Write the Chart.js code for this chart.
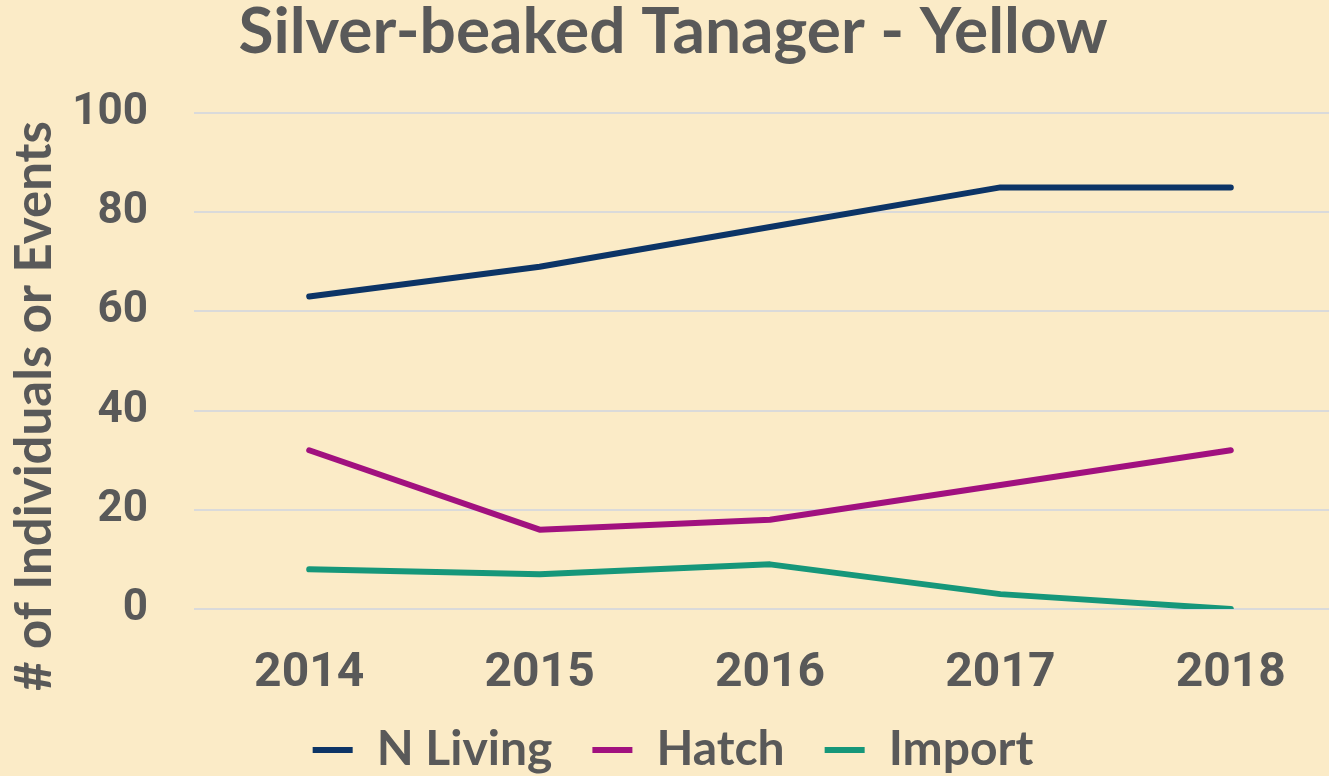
<!DOCTYPE html>
<html>
<head>
<meta charset="utf-8">
<script src="https://cdn.jsdelivr.net/npm/chart.js@4.4.1/dist/chart.umd.min.js"></script>
<style>
  html, body { margin: 0; padding: 0; overflow: hidden; background: #FBEBC7; }
  #wrap { position: relative; width: 1346px; height: 784px; }
</style>
</head>
<body>
<div id="wrap"><canvas id="myChart"></canvas></div>
<script>
// data
const years = ['2014', '2015', '2016', '2017', '2018'];
const nLiving = [63, 69, 77, 85, 85];
const hatch = [32, 16, 18, 25, 32];
const imports = [8, 7, 9, 3, 0];
const yTicks = [0, 20, 40, 60, 80, 100];
const yTitle = '# of Individuals or Events';

const textColor = '#595959';
const titleFont = "Lato, 'DejaVu Sans', sans-serif";
const tickFont = "Roboto, 'Open Sans', sans-serif";

Chart.defaults.color = textColor;

function series(label, values, color) {
    return {
        label: label,
        data: values,
        borderColor: color,
        backgroundColor: color,
        borderWidth: 6,
        borderCapStyle: 'round',
        borderJoinStyle: 'round',
        tension: 0,
        pointRadius: 0,
        pointHoverRadius: 0
    };
}

// axis title sits lower than the plot centre in the original, so draw it by hand
const yTitlePlugin = {
    id: 'yTitle',
    afterDraw(chart) {
        const { ctx, chartArea } = chart;
        ctx.save();
        ctx.translate(51, (chartArea.top + chartArea.bottom) / 2 + 45);
        ctx.rotate(-Math.PI / 2);
        ctx.font = "bold 51px " + titleFont;
        ctx.fillStyle = textColor;
        ctx.textAlign = 'center';
        ctx.textBaseline = 'alphabetic';
        ctx.fillText(yTitle, 0, 0);
        ctx.restore();
    }
};

const ctx = document.getElementById('myChart').getContext('2d');
const myChart = new Chart(ctx, {
    type: 'line',
    data: {
        labels: years,
        datasets: [
            series('N Living', nLiving, '#0C3466'),
            series('Hatch', hatch, '#A1117F'),
            series('Import', imports, '#16977A')
        ]
    },
    plugins: [yTitlePlugin],
    options: {
        responsive: true,
        maintainAspectRatio: false,
        animation: false,
        layout: { padding: { left: 0, right: 0, top: 0, bottom: 0 } },
        plugins: {
            title: {
                display: true,
                text: 'Silver-beaked Tanager - Yellow',
                color: textColor,
                font: { family: titleFont, size: 64, weight: 'bold', lineHeight: 1.0 },
                padding: { top: 0, bottom: 49 }
            },
            legend: {
                position: 'bottom',
                labels: {
                    color: textColor,
                    font: { family: titleFont, size: 48, weight: 'bold' },
                    usePointStyle: true,
                    pointStyle: 'line',
                    pointStyleWidth: 40,
                    boxHeight: 6,
                    padding: 40
                }
            },
            tooltip: { enabled: false }
        },
        scales: {
            x: {
                offset: true,
                afterFit: axis => { axis.height = 77; },
                grid: { display: false },
                border: { display: false },
                ticks: {
                    color: textColor,
                    font: { family: tickFont, size: 48, weight: 'bold', lineHeight: 0.8 },
                    padding: 38
                }
            },
            y: {
                min: 0,
                max: 100,
                afterBuildTicks: axis => { axis.ticks = yTicks.map(v => ({ value: v })); },
                afterFit: axis => { axis.width = 194; },
                grid: { color: '#DADADA', lineWidth: 2, drawTicks: false },
                border: { display: false },
                ticks: {
                    color: textColor,
                    font: { family: tickFont, size: 44, weight: 'bold' },
                    padding: 46
                }
            }
        }
    }
});
</script>
</body>
</html>
